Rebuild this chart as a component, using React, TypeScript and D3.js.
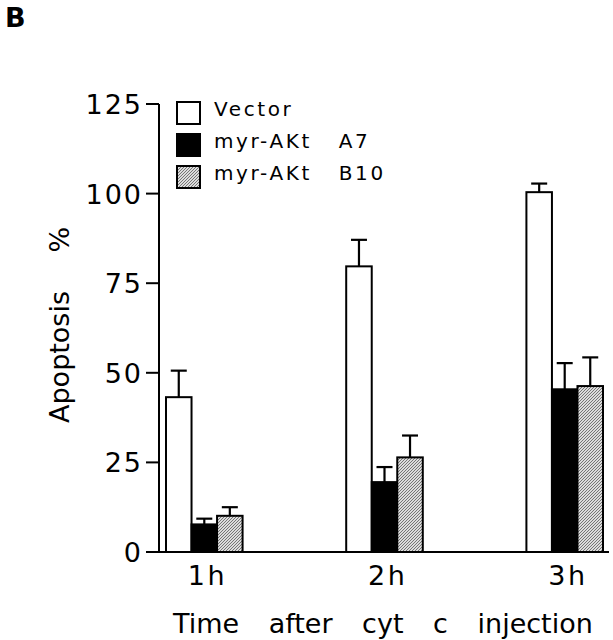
import React from "react";
import * as d3 from "d3";

const categories = ["1 h", "2 h", "3 h"];
const seriesNames = ["Vector", "myr-AKt   A7", "myr-AKt   B10"];
const vectorValues = [43.2, 79.7, 100.4];
const vectorErrors = [7.4, 7.4, 2.4];
const a7Values = [7.7, 19.5, 45.4];
const a7Errors = [1.6, 4.2, 7.3];
const b10Values = [10.1, 26.4, 46.3];
const b10Errors = [2.4, 6.1, 8.0];
const yTicks = [0, 25, 50, 75, 100, 125];

const FONT = "'DejaVu Sans', sans-serif";

export default function App() {
  const W = 613;
  const H = 640;
  const y = d3.scaleLinear().domain([0, 125]).range([552, 104]);
  const x = d3.scaleBand<string>().domain(categories).range([166, 603]).paddingInner(0.575).paddingOuter(0);
  const sub = d3.scaleBand<number>().domain([0, 1, 2]).range([0, x.bandwidth()]);
  const fills = ["#ffffff", "#000000", "url(#hatch)"];
  const series = [
    { values: vectorValues, errors: vectorErrors },
    { values: a7Values, errors: a7Errors },
    { values: b10Values, errors: b10Errors },
  ];
  const axisX = 159;
  const legendY = d3.scaleBand<number>().domain([0, 1, 2]).range([102, 198]);

  return (
    <svg width={W} height={H} style={{ position: "absolute", left: 0, top: 0, background: "#fff" }}>
      <defs>
        <pattern id="hatch" patternUnits="userSpaceOnUse" width="3" height="3">
          <rect width="3" height="3" fill="#dcdcdc" />
          <path d="M-1,1 L1,-1 M0,3 L3,0 M2,4 L4,2" stroke="#6a6a6a" strokeWidth="0.9" />
        </pattern>
      </defs>
      <rect width={W} height={H} fill="#fff" />
      <text x={5} y={27} fontFamily={FONT} fontWeight="bold" fontSize={27}>B</text>

      {/* bars */}
      {categories.map((c, i) =>
        series.map((s, j) => {
          const bx = (x(c) as number) + (sub(j) as number);
          const bw = sub.bandwidth();
          const top = y(s.values[i]);
          const errTop = y(s.values[i] + s.errors[i]);
          const cx = bx + bw / 2;
          return (
            <g key={`${i}-${j}`}>
              <line x1={cx} x2={cx} y1={top} y2={errTop} stroke="#000" strokeWidth={2.2} />
              <line x1={cx - 8} x2={cx + 8} y1={errTop} y2={errTop} stroke="#000" strokeWidth={2.2} />
              <rect x={bx} y={top} width={bw} height={y(0) - top} fill={fills[j]} stroke="#000" strokeWidth={2} />
            </g>
          );
        })
      )}

      {/* axes */}
      <line x1={axisX} x2={axisX} y1={y(125)} y2={y(0)} stroke="#000" strokeWidth={2} />
      <line x1={axisX - 1} x2={609} y1={y(0)} y2={y(0)} stroke="#000" strokeWidth={2} />
      {yTicks.map((t) => (
        <g key={t}>
          <line x1={146} x2={axisX} y1={y(t)} y2={y(t)} stroke="#000" strokeWidth={2} />
          <text x={143} y={y(t) + 10} textAnchor="end" fontFamily={FONT} fontSize={27} letterSpacing={2}>
            {t}
          </text>
        </g>
      ))}
      {categories.map((c) => (
        <text
          key={c}
          x={(x(c) as number) + x.bandwidth() / 2 + 2}
          y={585}
          textAnchor="middle"
          fontFamily={FONT}
          fontSize={27}
          wordSpacing={-6}
        >
          {c}
        </text>
      ))}
      <text x={173} y={633} fontFamily={FONT} fontSize={27} wordSpacing={21}>
        Time after cyt c injection
      </text>
      <text
        transform="translate(69,423) rotate(-90)"
        fontFamily={FONT}
        fontSize={27}
        wordSpacing={30}
      >
        Apoptosis %
      </text>

      {/* legend */}
      {seriesNames.map((n, j) => {
        const ly = legendY(j) as number;
        return (
          <g key={n}>
            <rect x={177} y={ly} width={23} height={22} fill={fills[j]} stroke="#000" strokeWidth={2} />
            <text x={214} y={ly + 14} fontFamily={FONT} fontSize={20} letterSpacing={2.6} style={{ whiteSpace: "pre" }}>
              {n}
            </text>
          </g>
        );
      })}
    </svg>
  );
}
